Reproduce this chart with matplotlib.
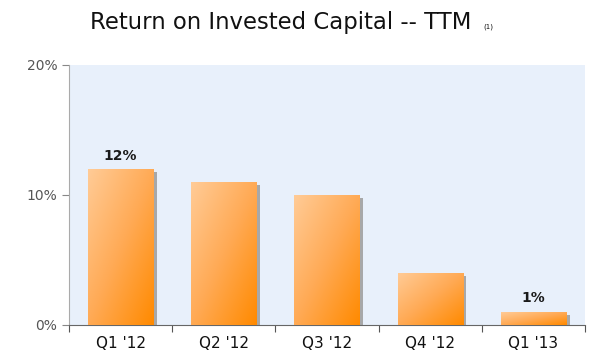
import numpy as np
import matplotlib
matplotlib.use("Agg")
import matplotlib.pyplot as plt
from matplotlib.colors import LinearSegmentedColormap
from matplotlib.patches import Rectangle

categories = ["Q1 '12", "Q2 '12", "Q3 '12", "Q4 '12", "Q1 '13"]
values = [12, 11, 10, 4, 1]
labeled = [True, False, False, False, True]

fig = plt.figure(figsize=(6.03, 3.6), dpi=100)
ax = fig.add_axes([69/603, 1-325/360, (585-69)/603, (325-65)/360])
ax.set_facecolor("#E8F0FB")

cmap = LinearSegmentedColormap.from_list("org", ["#FFCB96", "#FFAA55", "#FF8A00"])
grad = np.add.outer(np.linspace(0, 1, 60), np.linspace(0, 1, 60)) / 2  # rows: top->bottom
w = 0.63
x = np.arange(len(categories))
for xi, v, lab in zip(x, values, labeled):
    sh = Rectangle((xi - w/2 + 0.035, 0), w, v - 0.2, facecolor="#A0A0A0", edgecolor="none",
                   zorder=2, alpha=0.9)
    ax.add_patch(sh)
    rect = Rectangle((xi - w/2, 0), w, v, facecolor="none", edgecolor="none", zorder=3)
    ax.add_patch(rect)
    im = ax.imshow(grad, cmap=cmap, extent=(xi - w/2, xi + w/2, 0, v), origin="upper",
                   aspect="auto", zorder=3, interpolation="bilinear")
    im.set_clip_path(rect)
    if lab:
        ax.text(xi, v + 0.5, f"{v}%", ha="center", va="bottom", fontsize=10,
                fontweight="bold", color="#1A1A1A", zorder=4)

ax.set_aspect("auto")
ax.set_xlim(-0.5, len(categories) - 0.5)
ax.set_ylim(0, 20)
ax.set_yticks([0, 10, 20])
ax.set_yticklabels(["0%", "10%", "20%"], fontsize=10, color="#555555")
ax.set_xticks(np.arange(len(categories) + 1) - 0.5)
ax.set_xticklabels([])
ax.set_xticks(x, minor=True)
ax.set_xticklabels(categories, minor=True, fontsize=11, color="#111111")
ax.tick_params(axis="x", which="minor", length=0, pad=8)
ax.tick_params(axis="x", which="major", length=5, color="#555555", direction="out")
ax.tick_params(axis="y", length=5, color="#888888", direction="out")
for s in ["top", "right"]:
    ax.spines[s].set_visible(False)
ax.spines["left"].set_color("#AAAAAA")
ax.spines["bottom"].set_color("#666666")

fig.text(90/603, 1-22/360, "Return on Invested Capital -- TTM", fontsize=16.4,
         ha="left", va="center", color="#111111")
fig.text(483/603, 1-27/360, "(1)", fontsize=5, ha="left", va="center", color="#111111")

fig.savefig("out.png", dpi=100)
